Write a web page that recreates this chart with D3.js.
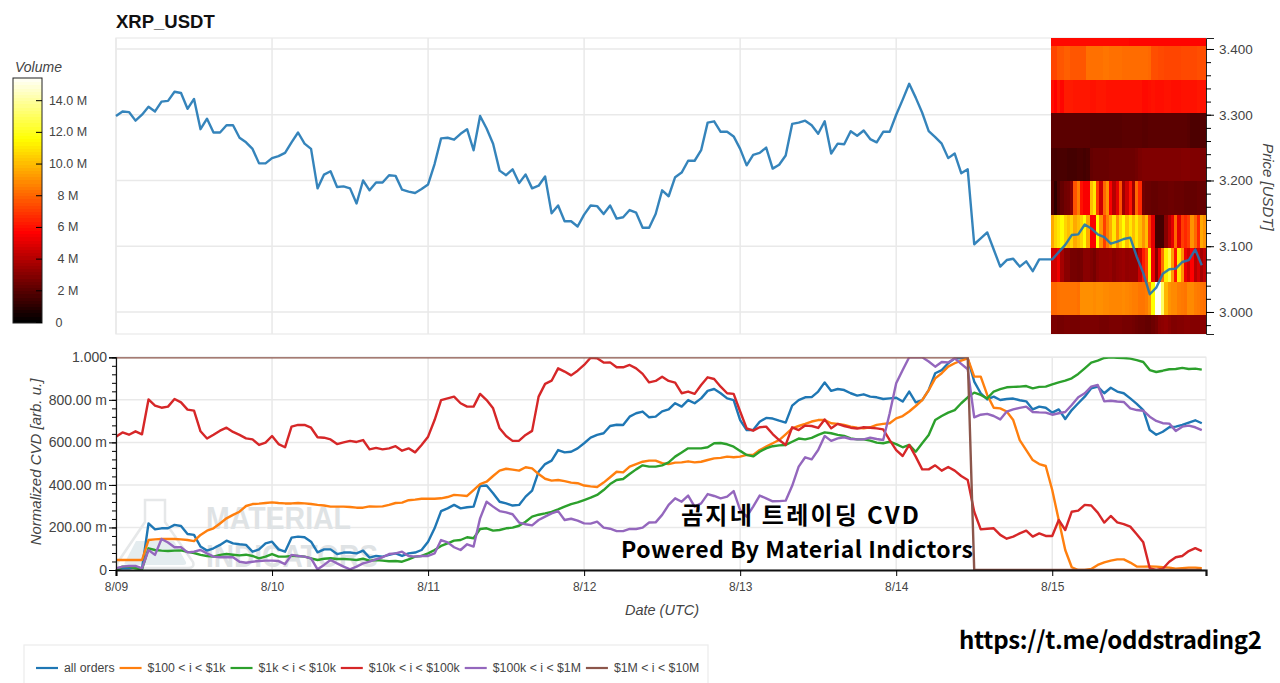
<!DOCTYPE html>
<html>
<head>
<meta charset="utf-8">
<script src="https://cdn.jsdelivr.net/npm/d3@7"></script>
<style>
  body { margin: 0; background: #fff; }
  text { font-family: "Liberation Sans", Arial, sans-serif; }
  .tick text { fill: #444; }
  .grid line { stroke: #e9e9e9; stroke-width: 1.5; }
</style>
</head>
<body>
<svg id="chart" width="1280" height="683"></svg>
<script>
// Hourly closes, 8/09 00:00 to 8/15 23:00 (one row per day)
var price = [
  3.298,3.305,3.304,3.291,3.300,3.312,3.305,3.320,3.321,3.335,3.333,3.309,3.324,3.278,3.294,3.273,3.273,3.284,3.284,3.265,3.258,3.248,3.226,3.226,
  3.234,3.237,3.242,3.258,3.273,3.256,3.248,3.188,3.209,3.214,3.190,3.191,3.188,3.165,3.200,3.185,3.197,3.197,3.208,3.207,3.186,3.183,3.181,3.187,
  3.194,3.225,3.264,3.265,3.262,3.271,3.278,3.246,3.298,3.279,3.256,3.215,3.208,3.217,3.196,3.209,3.188,3.192,3.206,3.150,3.162,3.138,3.138,3.130,
  3.148,3.162,3.161,3.149,3.162,3.142,3.144,3.155,3.151,3.128,3.128,3.149,3.185,3.176,3.205,3.212,3.230,3.230,3.246,3.288,3.290,3.274,3.274,3.267,
  3.248,3.223,3.239,3.242,3.250,3.218,3.224,3.238,3.286,3.288,3.291,3.284,3.271,3.290,3.241,3.256,3.255,3.275,3.268,3.276,3.263,3.258,3.274,3.274,
  3.300,3.323,3.347,3.326,3.303,3.275,3.266,3.256,3.234,3.241,3.211,3.217,3.103,3.112,3.121,3.095,3.069,3.079,3.081,3.069,3.077,3.062,3.080,3.080,
  3.080,3.091,3.102,3.117,3.118,3.133,3.127,3.118,3.114,3.104,3.107,3.111,3.113,3.084,3.059,3.027,3.037,3.058,3.065,3.066,3.076,3.079,3.095,3.071
];

// Normalized CVD per order size
var allOrders = [
  .003,.008,.008,.013,.006,.219,.191,.196,.196,.212,.207,.169,.165,.110,.091,.102,.118,.138,.125,.121,.118,.086,.097,.125,
  .133,.097,.086,.152,.157,.154,.133,.083,.097,.097,.075,.082,.082,.078,.091,.058,.066,.063,.071,.078,.066,.078,.082,.094,
  .133,.196,.277,.290,.306,.290,.295,.298,.395,.397,.361,.321,.313,.303,.306,.345,.373,.462,.498,.514,.564,.553,.556,.572,
  .596,.622,.635,.643,.677,.683,.682,.721,.737,.745,.718,.721,.746,.755,.784,.768,.799,.784,.807,.842,.851,.831,.807,.799,
  .705,.658,.658,.697,.715,.712,.702,.693,.773,.799,.812,.813,.839,.882,.842,.851,.846,.831,.820,.826,.815,.812,.804,.807,
  .810,.792,.839,.788,.799,.846,.925,.940,.972,.995,.995,.995,.886,.831,.802,.815,.799,.804,.806,.798,.793,.755,.768,.763,
  .740,.755,.710,.752,.784,.815,.854,.862,.831,.857,.839,.831,.807,.781,.752,.658,.636,.650,.671,.674,.682,.693,.704,.690
];
var orders100to1k = [
  .047,.047,.047,.047,.047,.141,.144,.146,.146,.146,.144,.141,.136,.165,.185,.196,.219,.243,.259,.274,.301,.310,.312,.315,
  .318,.315,.313,.313,.315,.313,.310,.306,.303,.298,.298,.298,.296,.293,.293,.299,.298,.299,.306,.315,.317,.328,.331,.335,
  .335,.335,.337,.343,.353,.351,.348,.376,.404,.415,.442,.467,.476,.472,.467,.483,.478,.451,.429,.420,.423,.418,.411,.408,
  .397,.393,.390,.411,.436,.462,.459,.486,.498,.509,.514,.514,.502,.498,.505,.506,.511,.506,.509,.517,.525,.527,.533,.530,
  .533,.541,.541,.564,.580,.596,.611,.638,.666,.677,.687,.698,.705,.705,.690,.687,.682,.674,.669,.666,.671,.682,.687,.690,
  .713,.724,.745,.771,.799,.846,.901,.925,.956,.972,.984,.995,.909,.909,.823,.763,.760,.745,.705,.611,.564,.517,.498,.489,
  .376,.235,.094,.013,0,0,.005,.024,.036,.044,.050,.050,.035,.016,.016,.017,.016,.013,.011,.006,.009,.011,.011,.008
];
var orders1kto10k = [
  0,.016,.016,.008,.003,.102,.094,.091,.089,.091,.092,.085,.080,.071,.066,.063,.071,.075,.072,.069,.072,.066,.055,.063,
  .075,.063,.063,.066,.066,.063,.055,.047,.053,.055,.052,.052,.050,.047,.053,.044,.047,.044,.041,.042,.039,.050,.063,.066,
  .078,.094,.113,.125,.138,.141,.154,.149,.193,.196,.185,.188,.196,.199,.208,.227,.251,.260,.266,.273,.285,.298,.310,.318,
  .329,.340,.353,.376,.404,.423,.428,.451,.473,.492,.486,.486,.492,.506,.533,.552,.572,.572,.572,.577,.596,.597,.591,.580,
  .560,.541,.534,.556,.572,.582,.586,.588,.603,.618,.614,.621,.635,.647,.643,.635,.630,.619,.614,.614,.608,.599,.596,.603,
  .592,.577,.588,.556,.596,.635,.705,.724,.740,.752,.784,.812,.834,.823,.807,.839,.850,.859,.861,.862,.865,.854,.861,.862,
  .873,.882,.890,.901,.922,.948,.975,.984,.997,1,.998,.997,.994,.987,.978,.940,.931,.937,.944,.945,.950,.945,.947,.942
];
var orders10kto100k = [
  .627,.647,.636,.652,.638,.802,.773,.763,.768,.804,.788,.754,.749,.652,.618,.636,.655,.669,.649,.635,.619,.614,.588,.599,
  .630,.592,.577,.674,.682,.682,.669,.624,.622,.614,.592,.600,.607,.602,.611,.567,.574,.567,.572,.582,.561,.572,.553,.588,
  .627,.705,.799,.807,.815,.784,.768,.768,.828,.799,.760,.666,.630,.607,.608,.635,.654,.815,.875,.890,.948,.933,.915,.937,
  .964,.998,.995,.975,.976,.953,.953,.964,.948,.922,.882,.889,.909,.889,.881,.831,.839,.828,.870,.906,.898,.862,.831,.828,
  .745,.666,.655,.671,.674,.639,.611,.588,.671,.658,.679,.677,.668,.708,.666,.687,.677,.669,.665,.671,.669,.666,.661,.611,
  .564,.536,.588,.533,.473,.473,.492,.467,.484,.467,.442,.423,.274,.191,.194,.196,.165,.147,.157,.172,.185,.157,.172,.160,
  .160,.235,.188,.274,.279,.306,.303,.270,.223,.254,.224,.216,.204,.168,.130,.008,0,.006,.039,.060,.066,.089,.103,.089
];
var orders100kto1m = [
  .008,.016,.019,.019,.008,.094,.071,.146,.129,.107,.107,.083,.086,.094,.078,.063,.060,.061,.060,.039,.034,.039,.042,.044,
  .044,.042,.028,.071,.066,.063,.055,.003,.024,.047,.031,.016,.003,.016,.031,.039,.050,.060,.075,.078,.086,.066,.063,.066,
  .066,.078,.141,.130,.107,.094,.121,.110,.243,.321,.298,.277,.271,.262,.223,.215,.210,.235,.251,.266,.277,.235,.241,.232,
  .219,.218,.227,.199,.194,.183,.183,.193,.193,.199,.223,.224,.259,.306,.337,.321,.350,.298,.313,.357,.348,.337,.345,.371,
  .282,.251,.298,.350,.337,.323,.324,.326,.396,.486,.530,.520,.564,.630,.607,.619,.624,.616,.614,.614,.622,.616,.611,.737,
  .878,.940,1,1,1,.980,.956,.978,.976,.995,.969,.944,.718,.730,.734,.724,.708,.745,.755,.762,.768,.743,.741,.740,
  .730,.737,.743,.776,.812,.831,.862,.870,.793,.796,.792,.790,.760,.752,.749,.721,.701,.690,.688,.654,.674,.679,.671,.658
];
var orders1mto10m = [
  1,1,1,1,1,1,1,1,1,1,1,1,1,1,1,1,1,1,1,1,1,1,1,1,
  1,1,1,1,1,1,1,1,1,1,1,1,1,1,1,1,1,1,1,1,1,1,1,1,
  1,1,1,1,1,1,1,1,1,1,1,1,1,1,1,1,1,1,1,1,1,1,1,1,
  1,1,1,1,1,1,1,1,1,1,1,1,1,1,1,1,1,1,1,1,1,1,1,1,
  1,1,1,1,1,1,1,1,1,1,1,1,1,1,1,1,1,1,1,1,1,1,1,1,
  1,1,1,1,1,1,1,1,1,1,1,1,0,0,0,0,0,0,0,0,0,0,0,0,
  0,0,0,0,0,0,0,0,0,0,0,0,0,0,0,0,0,0,0,0,0,0,0,0
];

var seriesNames = ["all orders", "$100 < i < $1k", "$1k < i < $10k", "$10k < i < $100k", "$100k < i < $1M", "$1M < i < $10M"];
var seriesColors = ["#1f77b4", "#ff7f0e", "#2ca02c", "#d62728", "#9467bd", "#8c564b"];
var seriesValues = [allOrders, orders100to1k, orders1kto10k, orders10kto100k, orders100kto1m, orders1mto10m];

// Order book heatmap for the last day, volume in millions, half hour columns, low price to high
var heatEdges = [2.9665, 2.995, 3.046, 3.097, 3.148, 3.199, 3.250, 3.302, 3.353, 3.405, 3.4167];
var heatBand0 = [
  2.7,2.7,2.6,2.6,2.7,2.7,2.6,2.6,2.6,2.7,2.7,2.7,
  2.7,2.7,2.7,2.6,2.6,2.6,2.7,2.7,2.7,2.7,2.6,2.6,
  2.6,2.5,2.4,2.3,2.3,2.2,2.2,2.4,2.6,3.0,3.1,3.2,
  3.0,2.8,2.8,2.9,2.9,3.0,3.0,2.9,2.9,2.9,3.0,3.0
];
var heatBand1 = [
  8.0,8.0,8.2,8.3,8.3,8.3,8.3,8.3,8.2,8.9,8.9,8.9,
  8.9,8.8,8.9,8.9,8.8,8.8,8.7,8.7,8.7,8.7,8.8,8.7,
  8.6,8.5,8.5,8.3,8.3,8.5,9.0,11.5,15.2,15.2,13.0,9.8,
  9.0,8.8,8.8,8.5,8.4,8.3,8.8,8.8,8.5,8.4,8.3,8.2
];
var heatBand2 = [
  4.6,4.6,5.2,3.6,3.0,3.0,2.6,2.6,2.5,2.6,3.0,3.0,
  2.8,2.6,3.0,3.2,3.2,3.2,3.3,3.0,3.2,3.3,3.4,3.2,
  3.3,3.3,3.3,4.4,6.2,7.2,11.6,5.2,3.0,5.0,8.2,11.2,
  12.4,9.2,6.0,11.0,9.0,5.2,4.6,5.6,4.0,4.6,3.6,4.2
];
var heatBand3 = [
  9.5,10.5,11.0,11.5,10.5,10.0,10.5,9.5,10.0,10.5,11.5,9.5,
  5.5,5.5,11.5,9.0,7.0,8.5,9.5,11.0,9.0,10.5,11.5,10.0,
  11.0,10.0,11.0,10.0,9.0,10.0,7.0,5.0,1.5,1.5,1.5,3.0,
  4.0,5.0,8.0,5.0,7.0,6.5,7.0,9.0,8.0,6.5,9.5,9.0
];
var heatBand4 = [
  1.8,1.0,1.8,2.2,2.5,2.6,3.0,7.5,8.5,6.0,5.5,5.5,
  10.0,11.0,7.0,4.5,8.0,9.0,5.5,4.0,5.0,7.5,3.5,4.5,
  6.0,3.5,8.0,6.5,2.5,2.3,2.3,2.2,2.2,2.3,2.3,2.3,
  2.4,2.4,2.3,2.3,2.3,2.2,2.2,2.2,2.2,2.3,2.2,2.2
];
var heatBand5 = [
  1.6,1.5,1.6,1.6,1.6,1.5,1.5,1.5,1.6,1.6,1.5,1.6,
  2.2,2.3,2.3,2.3,2.3,2.3,2.4,2.4,2.4,2.4,2.4,2.4,
  2.4,2.4,2.5,2.7,2.8,2.8,2.8,2.8,2.8,2.8,2.8,2.8,
  2.8,2.8,2.8,2.8,2.9,2.9,2.9,2.8,2.8,2.8,2.7,2.7
];
var heatBand6 = [
  2.0,2.0,2.0,2.0,2.0,2.0,2.0,2.0,2.0,2.0,2.0,2.0,
  1.9,1.9,1.9,1.9,1.9,1.9,1.9,1.9,1.9,1.9,2.0,2.0,
  2.0,2.0,2.0,2.0,1.9,1.9,2.0,2.0,2.0,2.0,2.0,2.0,
  2.0,2.0,2.0,2.0,2.0,2.0,1.9,1.7,1.7,1.7,1.8,1.8
];
var heatBand7 = [
  5.9,5.6,6.1,5.7,6.2,6.2,6.2,6.1,6.1,6.1,6.1,6.1,
  6.0,6.0,6.1,6.1,6.1,6.0,6.0,6.0,6.0,6.0,6.0,6.0,
  6.0,6.0,6.0,6.0,5.8,5.8,5.9,6.0,5.9,5.9,5.9,6.0,
  6.0,5.9,5.9,5.9,6.0,6.0,6.0,6.0,6.0,6.1,6.0,6.0
];
var heatBand8 = [
  7.2,7.2,7.6,7.6,7.8,7.8,7.6,7.6,7.6,7.6,7.6,8.2,
  8.2,8.2,8.2,8.2,8.3,8.3,8.2,8.2,8.2,8.2,8.1,8.1,
  8.1,8.1,8.1,8.1,8.1,8.1,8.0,7.4,7.4,7.3,7.3,7.2,
  7.2,7.2,7.2,7.2,7.3,7.3,7.3,7.3,7.3,7.4,7.4,7.4
];
var heatBand9 = [
  5.8,5.8,5.8,5.8,5.8,5.8,5.8,5.8,5.8,5.8,5.8,5.8,
  5.8,5.8,5.8,5.8,5.8,5.8,5.8,5.8,5.8,5.8,5.8,5.8,
  5.7,5.7,5.7,5.7,5.7,5.7,5.7,5.7,5.7,5.7,5.7,5.7,
  5.7,5.7,5.7,5.7,5.7,5.7,5.7,5.7,5.7,5.7,5.7,5.7
];
var heatBands = [heatBand0, heatBand1, heatBand2, heatBand3, heatBand4, heatBand5, heatBand6, heatBand7, heatBand8, heatBand9];

var dateTicks = ["2025-08-09", "2025-08-10", "2025-08-11", "2025-08-12", "2025-08-13", "2025-08-14", "2025-08-15"];
var dateLabels = ["8/09", "8/10", "8/11", "8/12", "8/13", "8/14", "8/15"];
var priceTicks = [3.0, 3.1, 3.2, 3.3, 3.4];
var cvdTicks = [0, 0.2, 0.4, 0.6, 0.8, 1];
var cvdLabels = ["0", "200.00 m", "400.00 m", "600.00 m", "800.00 m", "1.000"];
var volumeTicks = [0, 2, 4, 6, 8, 10, 12, 14];
var volumeLabels = ["0", "2 M", "4 M", "6 M", "8 M", "10.0 M", "12.0 M", "14.0 M"];

var svg = d3.select("#chart");

var left = 116, right = 1206;
var startTime = Date.UTC(2025, 7, 9);
var hour = 3600 * 1000;

var x = d3.scaleUtc().domain([startTime, startTime + 167.65 * hour]).range([left, right]);
var yPrice = d3.scaleLinear().domain([2.9665, 3.4167]).range([334, 38]);
var yCvd = d3.scaleLinear().domain([0, 1]).range([570, 357.3]);
var yVolume = d3.scaleLinear().domain([0, 15.4]).range([322, 78]);

// same hot ramp for the heatmap and the colour bar
var hot = d3.scaleLinear()
  .domain([0, 5.6, 11.5, 15.4])
  .range(["#000000", "#ff0000", "#ffff00", "#ffffff"])
  .clamp(true);

var dateValues = dateTicks.map(d => new Date(d + "T00:00:00Z"));
var lineTime = i => new Date(startTime + i * hour);

svg.append("defs").append("clipPath").attr("id", "clipCvd")
  .append("rect").attr("x", left).attr("y", 357.3).attr("width", right - left).attr("height", 570 - 357.3);
svg.select("defs").append("clipPath").attr("id", "clipPrice")
  .append("rect").attr("x", left).attr("y", 38).attr("width", right - left).attr("height", 296);

function drawGrid(yScale, yValues, top, bottom) {
  var g = svg.append("g").attr("class", "grid");
  g.selectAll(".gx").data(dateValues).enter().append("line")
    .attr("x1", d => x(d)).attr("x2", d => x(d)).attr("y1", top).attr("y2", bottom);
  g.selectAll(".gy").data(yValues).enter().append("line")
    .attr("x1", left).attr("x2", right).attr("y1", d => yScale(d)).attr("y2", d => yScale(d));
  g.append("rect").attr("x", left).attr("y", top).attr("width", right - left).attr("height", bottom - top)
    .attr("fill", "none").attr("stroke", "#e9e9e9").attr("stroke-width", 1.2);
}

// Price panel
drawGrid(yPrice, priceTicks, 38, 334);

var heat = svg.append("g").attr("clip-path", "url(#clipPrice)").attr("shape-rendering", "crispEdges");
heatBands.forEach(function(band, b) {
  heat.selectAll(".b" + b).data(band).enter().append("rect")
    .attr("x", (d, c) => x(new Date(startTime + (143.75 + c * 0.5) * hour)))
    .attr("width", () => x(new Date(startTime + 0.5 * hour)) - x(new Date(startTime)) + 0.4)
    .attr("y", yPrice(heatEdges[b + 1]))
    .attr("height", yPrice(heatEdges[b]) - yPrice(heatEdges[b + 1]))
    .attr("fill", d => hot(d));
});

var priceLine = d3.line().x((d, i) => x(lineTime(i))).y(d => yPrice(d));
svg.append("path").datum(price)
  .attr("d", priceLine).attr("fill", "none")
  .attr("stroke", "#1f77b4").attr("stroke-width", 2.4).attr("stroke-opacity", 0.9)
  .attr("stroke-linejoin", "round");

// Right axis, major and minor ticks
var priceAxis = svg.append("g").attr("transform", "translate(" + right + ",0)")
  .call(d3.axisRight(yPrice).tickValues(priceTicks).tickFormat(d3.format(".3f")).tickSizeOuter(0).tickSize(8).tickPadding(5));
priceAxis.selectAll("text").style("font-size", "13.5px");
priceAxis.select(".domain").attr("stroke", "#222");
svg.append("g").attr("transform", "translate(" + right + ",0)")
  .call(d3.axisRight(yPrice).tickValues(d3.range(2.98, 3.41, 0.02)).tickFormat("").tickSizeOuter(0).tickSize(5))
  .select(".domain").remove();

svg.append("text").attr("transform", "translate(1263,187) rotate(90)")
  .attr("text-anchor", "middle").attr("font-style", "italic").attr("font-size", 15).attr("fill", "#444")
  .text("Price [USDT]");

svg.append("text").attr("x", 116).attr("y", 28)
  .attr("font-size", 18.5).attr("font-weight", "bold").attr("fill", "#111")
  .text("XRP_USDT");

// Colour bar
var barSteps = d3.range(0, 15.4, 0.2);
svg.append("g").attr("shape-rendering", "crispEdges")
  .selectAll("rect").data(barSteps).enter().append("rect")
  .attr("x", 13).attr("width", 29)
  .attr("y", d => yVolume(d + 0.2))
  .attr("height", d => yVolume(d) - yVolume(d + 0.2) + 1)
  .attr("fill", d => hot(d));
svg.append("rect").attr("x", 13).attr("y", 78).attr("width", 29).attr("height", 245)
  .attr("fill", "none").attr("stroke", "#222").attr("stroke-width", 1);

var volumeAxis = svg.append("g").attr("transform", "translate(42,0)")
  .call(d3.axisRight(yVolume).tickValues(volumeTicks).tickSize(-6).tickPadding(0)
    .tickFormat((d, i) => volumeLabels[i]));
volumeAxis.select(".domain").remove();
volumeAxis.selectAll("text")
  .attr("x", d => d === 0 ? 17 : 26)
  .attr("text-anchor", "middle")
  .style("font-size", "12.5px");

svg.append("text").attr("x", 15).attr("y", 72)
  .attr("font-style", "italic").attr("font-size", 14).attr("fill", "#444")
  .text("Volume");

// CVD panel
drawGrid(yCvd, cvdTicks, 357.3, 570);

// Watermark sits behind the lines
var mark = svg.append("g").attr("fill", "#dfe3e5");
mark.append("path")
  .attr("d", "M145,500 L165,500 L165,522 L193,562 Q195,568 188,568 L122,568 Q115,568 118,562 L145,522 Z")
  .attr("fill", "none").attr("stroke", "#e6e8e9").attr("stroke-width", 2.5);
mark.append("path")
  .attr("d", "M136,541 L174,541 L186,562 Q187,565 183,565 L127,565 Q123,565 125,562 Z")
  .attr("fill", "#e4ecef");
mark.append("text").attr("x", 206).attr("y", 529)
  .attr("font-size", 32).attr("font-weight", "bold").attr("textLength", 145).attr("lengthAdjust", "spacingAndGlyphs")
  .text("MATERIAL");
mark.append("text").attr("x", 206).attr("y", 567)
  .attr("font-size", 32).attr("font-weight", "bold").attr("textLength", 172).attr("lengthAdjust", "spacingAndGlyphs")
  .text("INDICATORS");

var cvdLine = d3.line().x((d, i) => x(lineTime(i))).y(d => yCvd(d));
svg.append("g").attr("clip-path", "url(#clipCvd)")
  .selectAll("path").data(seriesValues).enter().append("path")
  .attr("d", cvdLine).attr("fill", "none")
  .attr("stroke", (d, i) => seriesColors[i]).attr("stroke-width", 2.4)
  .attr("stroke-linejoin", "round");

// Left axis
var cvdAxis = svg.append("g").attr("transform", "translate(" + left + ",0)")
  .call(d3.axisLeft(yCvd).tickValues(cvdTicks).tickSizeOuter(0).tickSize(7).tickPadding(2)
    .tickFormat((d, i) => cvdLabels[i]));
cvdAxis.selectAll("text").style("font-size", "14px");
cvdAxis.select(".domain").attr("stroke", "#111").attr("stroke-width", 1.2);
svg.append("g").attr("transform", "translate(" + left + ",0)")
  .call(d3.axisLeft(yCvd).tickValues(d3.range(0, 1.001, 0.04)).tickFormat("").tickSizeOuter(0).tickSize(4))
  .select(".domain").remove();

// Bottom axis
var dateAxis = svg.append("g").attr("transform", "translate(0,570)")
  .call(d3.axisBottom(x).tickValues(dateValues).tickSizeOuter(0).tickSize(6).tickPadding(6)
    .tickFormat((d, i) => dateLabels[i]));
dateAxis.selectAll("text").style("font-size", "12px");
dateAxis.select(".domain").attr("stroke", "#111").attr("stroke-width", 2.2);

svg.append("text").attr("x", 662).attr("y", 615)
  .attr("text-anchor", "middle").attr("font-style", "italic").attr("font-size", 14.5).attr("fill", "#444")
  .text("Date (UTC)");
svg.append("text").attr("transform", "translate(41,462) rotate(-90)")
  .attr("text-anchor", "middle").attr("font-style", "italic").attr("font-size", 15).attr("fill", "#444")
  .text("Normalized CVD [arb. u.]");

// Overlay captions
var captionFont = '"Noto Sans CJK KR", "Noto Sans", sans-serif';
svg.append("text").attr("x", 681).attr("y", 524)
  .style("font-family", captionFont).attr("font-weight", "bold").attr("font-size", 24)
  .attr("textLength", 238).attr("fill", "#000")
  .text("곰지네 트레이딩 CVD");
svg.append("text").attr("x", 621).attr("y", 558)
  .style("font-family", captionFont).attr("font-weight", "bold").attr("font-size", 23)
  .attr("textLength", 352).attr("fill", "#000")
  .text("Powered By Material Indictors");
svg.append("text").attr("x", 959).attr("y", 649)
  .style("font-family", captionFont).attr("font-weight", "bold").attr("font-size", 24)
  .attr("textLength", 303).attr("fill", "#000")
  .text("https://t.me/oddstrading2");

// Legend
svg.append("rect").attr("x", 24).attr("y", 645).attr("width", 684).attr("height", 50)
  .attr("fill", "#fff").attr("stroke", "#ececec").attr("stroke-width", 1.2);
var legendX = 36;
seriesNames.forEach(function(name, i) {
  svg.append("line").attr("x1", legendX).attr("x2", legendX + 22).attr("y1", 668).attr("y2", 668)
    .attr("stroke", seriesColors[i]).attr("stroke-width", 2.2);
  var label = svg.append("text").attr("x", legendX + 28).attr("y", 672)
    .attr("font-size", 12.3).attr("fill", "#444").text(name);
  legendX += 28 + label.node().getComputedTextLength() + 5;
});
</script>
</body>
</html>
